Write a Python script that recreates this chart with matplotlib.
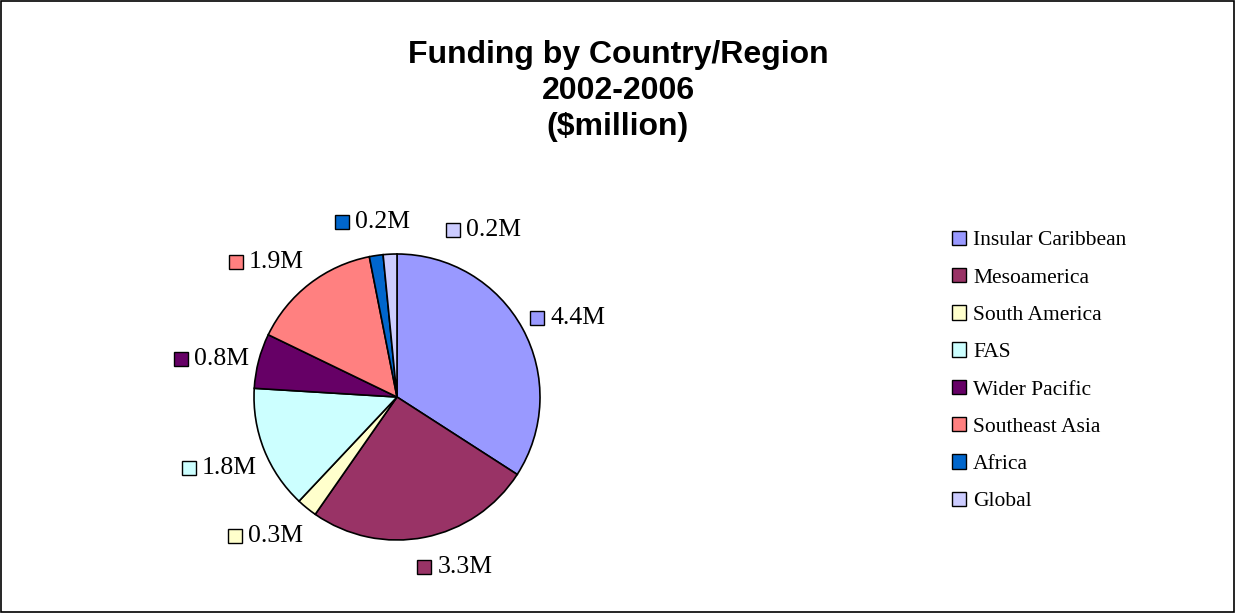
import numpy as np
import matplotlib
matplotlib.use("Agg")
import matplotlib.pyplot as plt
from matplotlib.patches import Patch, Rectangle

# Funding data ($million)
regions = ["Insular Caribbean", "Mesoamerica", "South America", "FAS",
           "Wider Pacific", "Southeast Asia", "Africa", "Global"]
funding = [4.4, 3.3, 0.3, 1.8, 0.8, 1.9, 0.2, 0.2]
colors = ["#9999FF", "#993366", "#FFFFCC", "#CCFFFF",
          "#660066", "#FF8080", "#0066CC", "#CCCCFF"]

W, H = 1236, 613
fig = plt.figure(figsize=(W / 100, H / 100), dpi=100)

# pie centre / radius in pixels
cx, cy, R = 397, H - 397, 143
half_w, half_h = 260, 200
ax = fig.add_axes([(cx - half_w) / W, (cy - half_h) / H, 2 * half_w / W, 2 * half_h / H])

wedges, _ = ax.pie(funding, colors=colors, startangle=90, counterclock=False,
                   radius=1, wedgeprops=dict(edgecolor="black", linewidth=1.2))
ax.set_xlim(-half_w / R, half_w / R)
ax.set_ylim(-half_h / R, half_h / R)
ax.set_aspect("equal", adjustable="box")
ax.axis("off")

# data labels with colour keys, placed outside along mid angle
# small pixel nudges (dx right, dy down) to mimic Excel's placement
nudge = [(17, 11), (32, -14), (-3, -6), (7, 2), (6, 9), (-6, 13), (13, 10), (106, 20)]
for i, w in enumerate(wedges):
    ang = np.deg2rad((w.theta1 + w.theta2) / 2)
    dx, dy = nudge[i]
    lx = 1.31 * np.cos(ang) + dx / R
    ly = 1.31 * np.sin(ang) - dy / R
    ax.plot(lx - 41 / R, ly, marker="s", markersize=9.5, color=colors[i],
            markeredgecolor="black", markeredgewidth=1, clip_on=False)
    ax.text(lx - 28 / R, ly, f"{funding[i]:.1f}M", ha="left", va="center",
            fontsize=18.5, family="Liberation Serif", clip_on=False)

# legend
handles = [Patch(facecolor=c, edgecolor="black", linewidth=1) for c in colors]
fig.legend(handles, regions, loc="upper left", bbox_to_anchor=(943 / W, 1 - 222 / H),
           frameon=False, prop={"family": "Liberation Serif", "size": 15.5},
           handlelength=0.65, handleheight=0.65, handletextpad=0.35,
           labelspacing=0.815, borderaxespad=0)

fig.text(0.5, 1 - 40 / H, "Funding by Country/Region\n2002-2006\n($million)",
         ha="center", va="top", fontsize=23, fontweight="bold",
         family="Liberation Sans", linespacing=1.25)

# outer frame
fig.patches.append(Rectangle((0.0005, 0.001), 0.998, 0.997, transform=fig.transFigure,
                             fill=False, edgecolor="black", linewidth=1.2))

fig.savefig("out.png", dpi=100)
